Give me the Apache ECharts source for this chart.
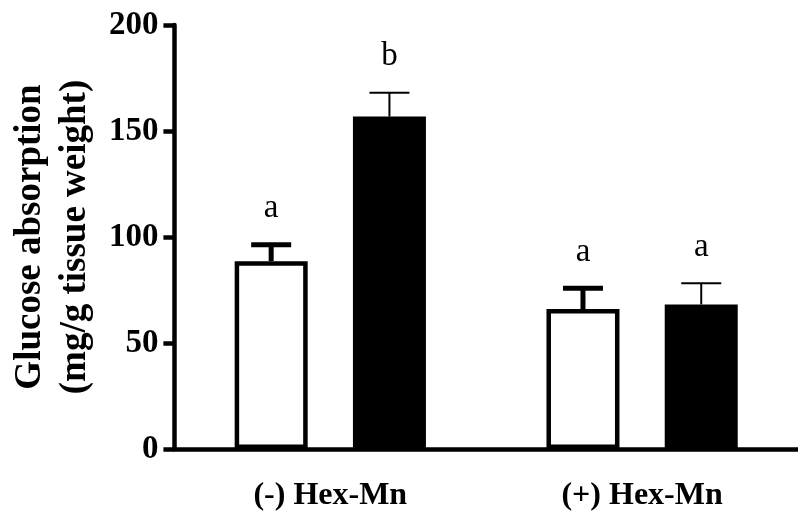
<!DOCTYPE html>
<html>
<head>
<meta charset="utf-8">
<script src="https://cdn.jsdelivr.net/npm/echarts@6/dist/echarts.min.js"></script>
<style>
html, body { margin: 0; padding: 0; background: #fff; }
#main { width: 798px; height: 520px; }
</style>
</head>
<body>
<div id="main"></div>
<script>
var categories = ['(-) Hex-Mn', '(+) Hex-Mn'];
var whiteMeans = [88.6, 66.0];
var whiteErrs = [7.8, 9.8];
var blackMeans = [156.8, 68.2];
var blackErrs = [11.3, 10.0];
var whiteLetters = ['a', 'a'];
var blackLetters = ['b', 'a'];
var yTicks = [0, 50, 100, 150, 200];

var serif = '"Liberation Serif", "Times New Roman", serif';
var barW = 73;
var barGap = 0.62;
var half = (barW + barW * barGap) / 2; // px from category centre to bar centre

// error bar (upper half only) + significance letter
function errRender(shift, lineW, capW, letters) {
	return function(params, api) {
		var i = api.value(0);
		var base = api.coord([i, api.value(1)]);
		var top = api.coord([i, api.value(1) + api.value(2)]);
		var x = base[0] + shift;
		return {
			type : 'group',
			children : [ {
				type : 'line',
				shape : { x1 : x, y1 : base[1], x2 : x, y2 : top[1] },
				style : { stroke : '#000', lineWidth : lineW }
			}, {
				type : 'line',
				shape : { x1 : x - capW / 2, y1 : top[1], x2 : x + capW / 2, y2 : top[1] },
				style : { stroke : '#000', lineWidth : lineW }
			}, {
				type : 'text',
				x : x,
				y : top[1] - 36,
				style : {
					text : letters[params.dataIndex],
					font : '33px ' + serif,
					fill : '#000',
					align : 'center',
					verticalAlign : 'middle'
				}
			} ]
		};
	};
}

var chart = echarts.init(document.getElementById('main'));
var option = {
	animation : false,
	grid : { left : 169, right : -3, top : 25, bottom : 71 },
	xAxis : {
		type : 'category',
		data : categories,
		axisLine : { lineStyle : { color : '#000', width : 4.5 } },
		axisTick : { alignWithLabel : true, length : 12, lineStyle : { color : '#000', width : 4.5 } },
		axisLabel : { margin : 31, color : '#000', fontFamily : serif, fontWeight : 'bold', fontSize : 32 }
	},
	yAxis : {
		type : 'value',
		min : yTicks[0],
		max : yTicks[yTicks.length - 1],
		interval : yTicks[1] - yTicks[0],
		name : 'Glucose absorption\n(mg/g tissue weight)',
		nameLocation : 'middle',
		nameGap : 76,
		nameTextStyle : { color : '#000', fontFamily : serif, fontWeight : 'bold', fontSize : 37, lineHeight : 45 },
		axisLine : { show : true, lineStyle : { color : '#000', width : 4.5 } },
		axisTick : { show : true, length : 11, lineStyle : { color : '#000', width : 4.5 } },
		axisLabel : { margin : 16, color : '#000', fontFamily : serif, fontWeight : 'bold', fontSize : 33 },
		splitLine : { show : false }
	},
	series : [ {
		type : 'bar',
		data : whiteMeans,
		barWidth : barW,
		barGap : (barGap * 100) + '%',
		itemStyle : { color : '#fff', borderColor : '#000', borderWidth : 4.5 },
		z : 2
	}, {
		type : 'bar',
		data : blackMeans,
		barWidth : barW,
		itemStyle : { color : '#000', borderColor : '#000', borderWidth : 4.5 },
		z : 2
	}, {
		type : 'custom',
		renderItem : errRender(-half, 5, 40, whiteLetters),
		data : whiteMeans.map(function(v, i) { return [i, v, whiteErrs[i]]; }),
		z : 3
	}, {
		type : 'custom',
		renderItem : errRender(half, 2, 40, blackLetters),
		data : blackMeans.map(function(v, i) { return [i, v, blackErrs[i]]; }),
		z : 3
	} ]
};
chart.setOption(option);
</script>
</body>
</html>
